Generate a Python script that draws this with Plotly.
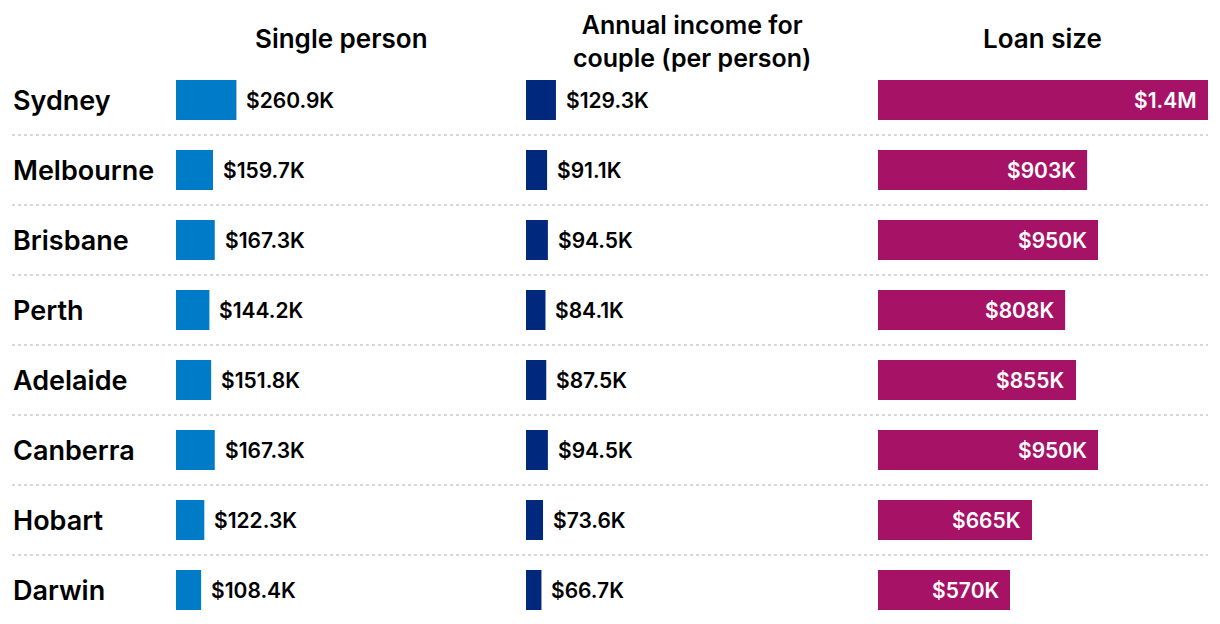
import plotly.graph_objects as go

cities = ["Sydney", "Melbourne", "Brisbane", "Perth", "Adelaide", "Canberra", "Hobart", "Darwin"]
single = [260.9, 159.7, 167.3, 144.2, 151.8, 167.3, 122.3, 108.4]
couple = [129.3, 91.1, 94.5, 84.1, 87.5, 94.5, 73.6, 66.7]
loan = [1425, 903, 950, 808, 855, 950, 665, 570]
single_labels = ["$260.9K", "$159.7K", "$167.3K", "$144.2K", "$151.8K", "$167.3K", "$122.3K", "$108.4K"]
couple_labels = ["$129.3K", "$91.1K", "$94.5K", "$84.1K", "$87.5K", "$94.5K", "$73.6K", "$66.7K"]
loan_labels = ["$1.4M", "$903K", "$950K", "$808K", "$855K", "$950K", "$665K", "$570K"]
headers = ["Single person", "Annual income for<br>couple (per person)", "Loan size"]

W, H = 1220, 624
OFF = 8  # page offset of the plot in the browser
FONT = "Inter"
scale = 0.2316  # px per $K
cols = [(176 - OFF, 500 - OFF), (526 - OFF, 860 - OFF), (878 - OFF, 1212 - OFF)]
colors = ["#007bc7", "#00297e", "#a61265"]
ys = list(range(len(cities)))
row0 = 100 - OFF
rowh = 70

fig = go.Figure()
series = [single, couple, loan]
for k, (vals, col) in enumerate(zip(series, colors)):
    fig.add_trace(go.Bar(
        x=vals, y=ys, orientation="h", marker=dict(color=col, line=dict(width=0)),
        width=40 / rowh, xaxis=f"x{k+1 if k else ''}", yaxis="y", hoverinfo="skip",
        showlegend=False,
    ))

ann = []
for i, c in enumerate(cities):
    ann.append(dict(x=(11 - OFF) / W, y=i, xref="paper", yref="y", text=c, showarrow=False,
                    xanchor="left", yanchor="middle",
                    font=dict(family=FONT, size=27, color="#000", weight=600)))
    ann.append(dict(x=single[i], y=i, xref="x", yref="y", text=single_labels[i], showarrow=False,
                    xanchor="left", yanchor="middle", xshift=8,
                    font=dict(family=FONT, size=21, color="#000", weight=600)))
    ann.append(dict(x=couple[i], y=i, xref="x2", yref="y", text=couple_labels[i], showarrow=False,
                    xanchor="left", yanchor="middle", xshift=8,
                    font=dict(family=FONT, size=21, color="#000", weight=600)))
    ann.append(dict(x=loan[i], y=i, xref="x3", yref="y", text=loan_labels[i], showarrow=False,
                    xanchor="right", yanchor="middle", xshift=-9,
                    font=dict(family=FONT, size=21, color="#fff", weight=600)))

hx = [341, 692, 1042]
for h, x in zip(headers, hx):
    if "<br>" in h:
        ann.append(dict(x=(x - OFF) / W, y=1, xref="paper", yref="paper", text=h,
                        showarrow=False, xanchor="center", yanchor="top",
                        font=dict(family=FONT, size=25, color="#000", weight=600)))
    else:
        ann.append(dict(x=(x - OFF) / W, y=1 - (38 - OFF) / H, xref="paper", yref="paper", text=h,
                        showarrow=False, xanchor="center", yanchor="middle",
                        font=dict(family=FONT, size=26, color="#000", weight=600)))

shapes = []
for i in range(len(cities) - 1):
    shapes.append(dict(type="line", xref="paper", yref="y", x0=(12 - OFF) / W, x1=(1208 - OFF) / W,
                       y0=i + 0.5, y1=i + 0.5, line=dict(color="#cccccc", width=1.5, dash="dot")))

layout = dict(
    width=W, height=H, margin=dict(l=0, r=0, t=0, b=0),
    paper_bgcolor="white", plot_bgcolor="white",
    barmode="overlay",
    yaxis=dict(range=[(H - row0) / rowh, -row0 / rowh], visible=False, domain=[0, 1]),
    annotations=ann, shapes=shapes,
)
for k, (a, b) in enumerate(cols):
    name = "xaxis" if k == 0 else f"xaxis{k+1}"
    layout[name] = dict(domain=[a / W, b / W], range=[0, (b - a) / scale], visible=False,
                        anchor="y", fixedrange=True)
fig.update_layout(**layout)
fig.write_html("out.html")
